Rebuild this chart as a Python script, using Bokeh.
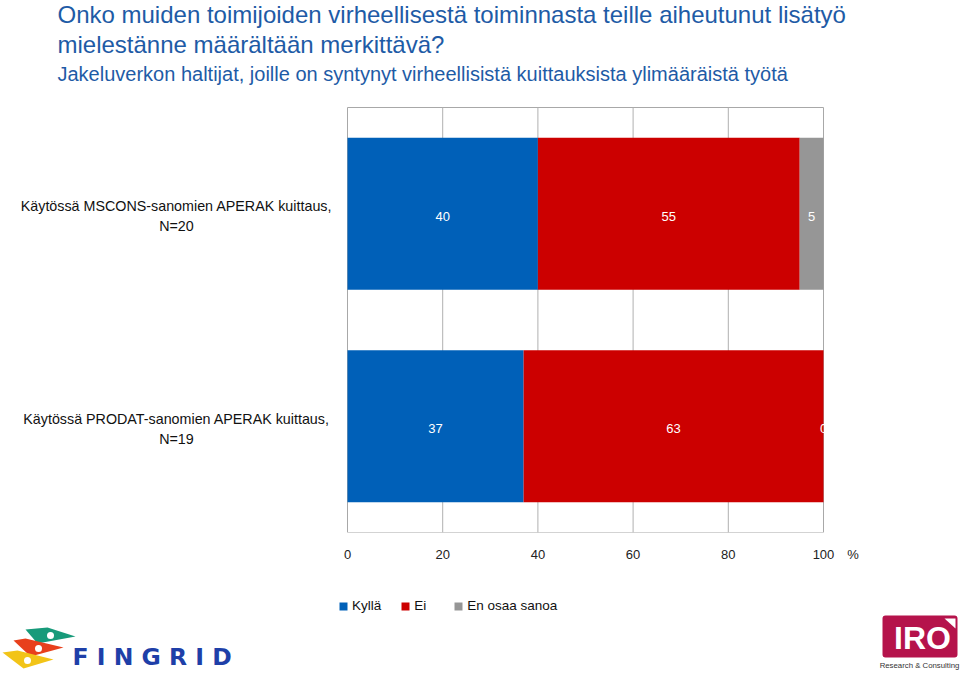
from bokeh.plotting import figure
from bokeh.layouts import column
from bokeh.models import ColumnDataSource, Range1d, Label, FixedTicker
from bokeh.embed import file_html
from bokeh.resources import INLINE
from bokeh.core.properties import value

# ---- data ----
categories = ["Käytössä MSCONS-sanomien APERAK kuittaus,\nN=20",
              "Käytössä PRODAT-sanomien APERAK kuittaus,\nN=19"]
series = ["Kyllä", "Ei", "En osaa sanoa"]
kylla = [40, 37]
ei = [55, 63]
en_osaa = [5, 0]
x_ticks = [0, 20, 40, 60, 80, 100]
unit_label = "%"
title_lines = ["Onko muiden toimijoiden virheellisestä toiminnasta teille aiheutunut lisätyö",
               "mielestänne määrältään merkittävä?"]
subtitle = "Jakeluverkon haltijat, joille on  syntynyt virheellisistä kuittauksista ylimääräistä työtä"

colors = ["#0060B8", "#CC0000", "#969696"]
FONT = "Liberation Sans"
tcol = "#1E5BA6"

W, H = 960, 677
MAIN_FRAME_H = 532          # frame height of the main figure (page px)
AXIS_H = 34                 # x-axis panel below the frame
FOOT_H = H - MAIN_FRAME_H - AXIS_H

# page-pixel geometry of the plot box (0..100 %, 2 rows)
box_left, box_right, box_top = 347, 823, 107
px_per_pct = (box_right - box_left) / 100.0
px_per_row = (MAIN_FRAME_H - box_top) / 2.0

def dx(sx):
    return (sx - box_left) / px_per_pct
def dy(sy):
    return (MAIN_FRAME_H - sy) / px_per_row

n = len(categories)
ypos = [n - 1 - i + 0.5 for i in range(n)]
text_shift = 2.5 / px_per_row   # texts sit slightly below the bar centres

p = figure(width=W, height=MAIN_FRAME_H + AXIS_H, output_backend="svg", toolbar_location=None,
           x_range=Range1d(dx(0), dx(W)), y_range=Range1d(0, dy(0)),
           y_axis_location=None,
           min_border_left=0, min_border_right=0, min_border_top=0, min_border_bottom=AXIS_H)
p.background_fill_color = "white"
p.border_fill_color = "white"
p.outline_line_color = None
p.xgrid.visible = False
p.ygrid.visible = False

# plot box and vertical grid lines, from the tick values
p.quad(left=[x_ticks[0]], right=[x_ticks[-1]], bottom=[0], top=[n], fill_color=None,
       line_color="#A8A8A8", line_width=1)
p.segment(x0=x_ticks[1:-1], x1=x_ticks[1:-1], y0=[0] * (len(x_ticks) - 2), y1=[n] * (len(x_ticks) - 2),
          line_color="#B0B0B0", line_width=1)

src = ColumnDataSource(dict(y=ypos, **{series[0]: kylla, series[1]: ei, series[2]: en_osaa}))
p.hbar_stack(series, y="y", height=0.715, color=colors, line_color=None, source=src)

# value labels
lx, ly, lt = [], [], []
for i in range(n):
    vals = [kylla[i], ei[i], en_osaa[i]]
    cum = 0
    for v in vals:
        lx.append(cum + v / 2)
        ly.append(ypos[i] - text_shift)
        lt.append(str(v))
        cum += v
p.text(x=lx, y=ly, text=lt, text_color="white", text_align="center", text_baseline="middle",
       text_font=value(FONT), text_font_size="13px")

# category labels
p.text(x=[dx(176)] * n, y=[yy - text_shift for yy in ypos], text=categories, text_color="#111111",
       text_align="center", text_baseline="middle", text_font=value(FONT), text_font_size="14.3px",
       text_line_height=1.25)

# x axis (with the unit sign as an extra tick to the right of 100)
unit_pos = dx(852.5)
xa = p.xaxis[0]
xa.ticker = FixedTicker(ticks=x_ticks + [unit_pos])
xa.major_label_overrides = {unit_pos: unit_label}
xa.axis_line_color = None
xa.major_tick_line_color = None
xa.minor_tick_line_color = None
xa.major_tick_out = 0
xa.major_tick_in = 0
xa.minor_tick_out = 0
xa.minor_tick_in = 0
xa.major_label_text_font = FONT
xa.major_label_text_font_size = "13px"
xa.major_label_text_color = "#222222"
xa.major_label_standoff = 14

# titles
p.add_layout(Label(x=dx(57), y=dy(14), text=title_lines[0], text_font=FONT, text_font_size="24px",
                   text_color=tcol, text_baseline="middle"))
p.add_layout(Label(x=dx(57), y=dy(44), text=title_lines[1], text_font=FONT, text_font_size="24px",
                   text_color=tcol, text_baseline="middle"))
p.add_layout(Label(x=dx(57), y=dy(73), text=subtitle, text_font=FONT, text_font_size="20px",
                   text_color=tcol, text_baseline="middle"))

# ---- foot: legend and logos (page-pixel coordinates) ----
top_foot = MAIN_FRAME_H + AXIS_H
f = figure(width=W, height=FOOT_H, output_backend="svg", toolbar_location=None,
           x_range=Range1d(0, W), y_range=Range1d(H, top_foot),
           x_axis_location=None, y_axis_location=None,
           min_border_left=0, min_border_right=0, min_border_top=0, min_border_bottom=0)
f.outline_line_color = None
f.xgrid.visible = False
f.ygrid.visible = False
f.background_fill_color = "white"
f.border_fill_color = "white"

legend_rs = f.hbar_stack(series, y="y", height=0.715, color=colors, line_color=None,
                         source=src, legend_label=series)
for r in legend_rs:
    r.visible = False
lg = f.legend[0]
lg.orientation = "horizontal"
lg.location = (338, H - 613)
lg.glyph_width = 10
lg.glyph_height = 10
lg.label_standoff = 4
lg.spacing = 19
lg.padding = 0
lg.margin = 0
lg.border_line_color = None
lg.background_fill_alpha = 0
lg.label_text_font = FONT
lg.label_text_font_size = "13.5px"
lg.label_text_color = "#111111"
lg.label_height = 12

# FINGRID logo
f.patches(xs=[[25, 47, 75, 37], [13, 25, 63, 30], [2, 17, 53, 23]],
          ys=[[629, 627, 636, 643], [640, 638, 647, 656], [652, 650, 659, 668]],
          fill_color=["#179A7A", "#E8401C", "#F2C418"], line_color=None)
f.scatter(x=[50, 38, 27], y=[635, 648, 660], size=7, color="white", line_color=None)
f.text(x=[72], y=[656], text=["F I N G R I D"], text_font=value("DejaVu Sans"), text_font_style="bold",
       text_font_size="23.5px", text_color="#1E3FA8", text_baseline="middle")

# IRO logo
f.quad(left=[882], right=[957], top=[615], bottom=[657], fill_color="#B5134B", line_color=None,
       border_radius=3)
f.text(x=[922], y=[637], text=["IRO"], text_font=value(FONT), text_font_style="bold",
       text_font_size="32px", text_color="white", text_align="center", text_baseline="middle")
f.patches(xs=[[944, 955, 955]], ys=[[618, 618, 628]], fill_color="white", line_color=None)
f.text(x=[919], y=[665], text=["Research & Consulting"], text_font=value(FONT),
       text_font_size="7.8px", text_color="#333333", text_align="center", text_baseline="middle")

layout = column(p, f, spacing=0)
open("out.html", "w").write(file_html(layout, INLINE))
